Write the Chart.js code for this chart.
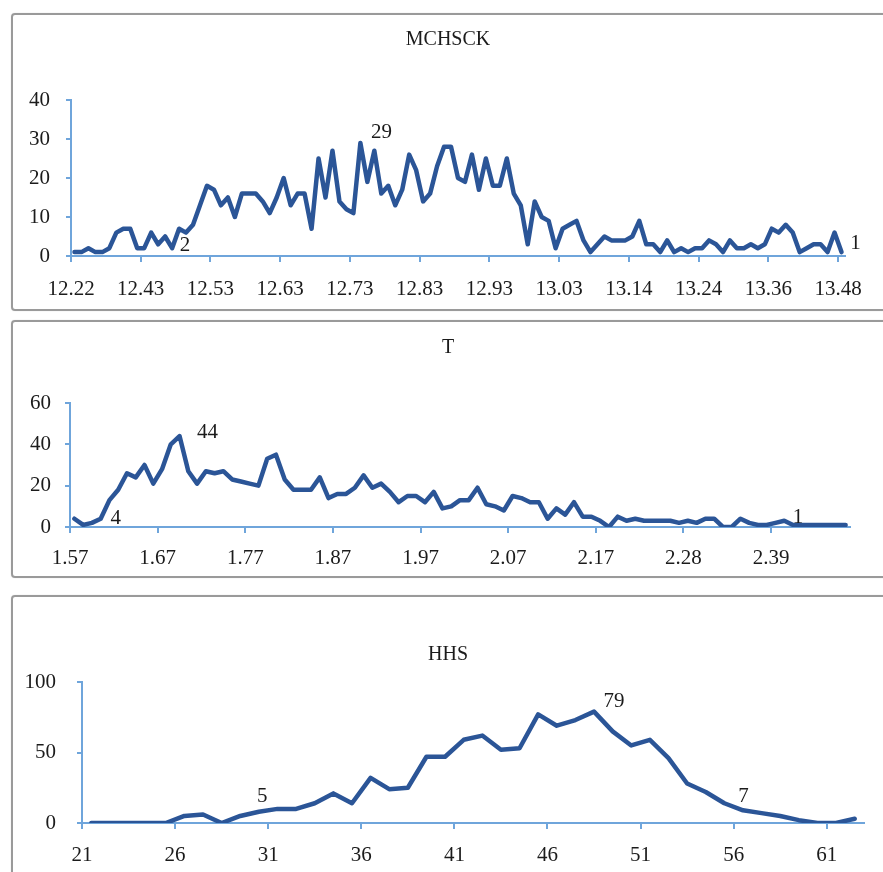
<!DOCTYPE html>
<html>
<head>
<meta charset="utf-8">
<script src="https://cdn.jsdelivr.net/npm/chart.js@4.4.0/dist/chart.umd.min.js"></script>
<style>
  html, body { margin: 0; padding: 0; background: #fff; width: 883px; height: 872px; overflow: hidden; position: relative; }
  .frame { position: absolute; left: 11px; width: 920px; border: 2px solid #9a9a9a; border-radius: 4px; box-sizing: border-box; box-shadow: 0 0 1px #c4c4c4; }
  canvas { position: absolute; left: 0; }
</style>
</head>
<body>
<div class="frame" style="top:13px;height:298px"></div>
<div class="frame" style="top:320px;height:258px"></div>
<div class="frame" style="top:595px;height:320px"></div>
<canvas id="c1" width="883" height="316" style="top:0"></canvas>
<canvas id="c2" width="883" height="276" style="top:316px"></canvas>
<canvas id="c3" width="883" height="280" style="top:592px"></canvas>
<script>
// Axis labels shown every few bins
const mchsckTicks = ['12.22','12.43','12.53','12.63','12.73','12.83','12.93','13.03','13.14','13.24','13.36','13.48'];
const tTicks = ['1.57','1.67','1.77','1.87','1.97','2.07','2.17','2.28','2.39'];
const hhsTicks = ['21','26','31','36','41','46','51','56','61'];

// Frequency per bin
const mchsckCounts = [
  1,1,2,1,1,2,6,7,7,2,2,
  6,3,5,2,7,6,8,13,18,17,
  13,15,10,16,16,16,14,11,15,20,
  13,16,16,7,25,15,27,14,12,11,
  29,19,27,16,18,13,17,26,22,14,
  16,23,28,28,20,19,26,17,25,18,
  18,25,16,13,3,14,10,9,2,7,
  8,9,4,1,3,5,4,4,4,5,
  9,3,3,1,4,1,2,1,2,2,
  4,3,1,4,2,2,3,2,3,7,
  6,8,6,1,2,3,3,1,6,1
];
const tCounts = [
  4,1,2,4,13,18,26,24,30,21,
  28,40,44,27,21,27,26,27,23,22,
  21,20,33,35,23,18,18,18,24,14,
  16,16,19,25,19,21,17,12,15,15,
  12,17,9,10,13,13,19,11,10,8,
  15,14,12,12,4,9,6,12,5,5,
  3,0,5,3,4,3,3,3,3,2,
  3,2,4,4,0,0,4,2,1,1,
  2,3,1,1,1,1,1,1,1
];
const hhsCounts = [
  0,0,0,0,0,5,6,0,5,8,
  10,10,14,21,14,32,24,25,47,47,
  59,62,52,53,77,69,73,79,65,55,
  59,46,28,22,14,9,7,5,2,0,
  0,3
];

const LINE = '#2b5597';
const AXIS = '#6fa5db';
const TEXT = '#1b1b1b';
const SERIF = '"Liberation Serif", "Times New Roman", serif';
const X_AXIS_H = 45;

// Title and value callouts drawn on top of the line
const panelText = {
  id: 'panelText',
  afterDatasetsDraw(chart, args, opts) {
    const ctx = chart.ctx;
    ctx.save();
    ctx.fillStyle = TEXT;
    ctx.textAlign = 'center';
    ctx.textBaseline = 'middle';
    ctx.font = '20px ' + SERIF;
    ctx.fillText(opts.title, opts.titleX, opts.titleY);
    ctx.font = '21px ' + SERIF;
    const pts = chart.getDatasetMeta(0).data;
    const data = chart.data.datasets[0].data;
    opts.notes.forEach(n => {
      const p = pts[n.index];
      ctx.fillText(String(data[n.index].y), p.x + n.dx, p.y + n.dy);
    });
    ctx.restore();
  }
};

function makePanel(id, p) {
  const canvas = document.getElementById(id);
  const W = canvas.width, H = canvas.height;
  const tickFont = { family: SERIF, size: 21 };
  return new Chart(canvas, {
    type: 'line',
    data: {
      datasets: [{
        data: p.counts.map((v, i) => ({ x: i, y: v })),
        borderColor: LINE,
        borderWidth: 4.5,
        pointRadius: 0,
        tension: 0,
        borderJoinStyle: 'round',
        borderCapStyle: 'round',
        fill: false
      }]
    },
    options: {
      responsive: false,
      animation: false,
      events: [],
      layout: {
        padding: { left: 0, top: p.top, right: W - p.right, bottom: H - p.bottom - X_AXIS_H }
      },
      plugins: {
        legend: { display: false },
        tooltip: { enabled: false },
        panelText: { title: p.title, titleX: 448, titleY: p.titleY, notes: p.notes }
      },
      scales: {
        x: {
          type: 'linear',
          min: -0.5,
          max: p.counts.length - 0.5,
          afterBuildTicks: s => { s.ticks = p.ticks.map((_, k) => ({ value: -0.5 + k * p.every })); },
          afterFit: s => { s.height = X_AXIS_H; },
          ticks: {
            autoSkip: false, maxRotation: 0, padding: p.xPad,
            color: TEXT, font: tickFont,
            callback: (v, idx) => p.ticks[idx]
          },
          grid: { drawOnChartArea: false, drawTicks: true, tickLength: 6, color: AXIS, lineWidth: 2 },
          border: { display: true, color: AXIS, width: 2 }
        },
        y: {
          min: 0,
          max: p.yMax,
          afterFit: s => { s.width = p.left; },
          ticks: { stepSize: p.yStep, padding: p.yPad, color: TEXT, font: tickFont },
          grid: { drawOnChartArea: false, drawTicks: true, tickLength: 5, color: AXIS, lineWidth: 2 },
          border: { display: true, color: AXIS, width: 2 }
        }
      }
    },
    plugins: [panelText]
  });
}

makePanel('c1', {
  title: 'MCHSCK', titleY: 40,
  counts: mchsckCounts, ticks: mchsckTicks, every: 10,
  yMax: 40, yStep: 10,
  left: 71, right: 845, top: 100, bottom: 256,
  yPad: 16, xPad: 15,
  notes: [ { index: 41, dx: 21, dy: -10 }, { index: 14, dx: 13, dy: -3 }, { index: 110, dx: 14, dy: -9 } ]
});

makePanel('c2', {
  title: 'T', titleY: 32,
  counts: tCounts, ticks: tTicks, every: 10,
  yMax: 60, yStep: 20,
  left: 70, right: 850, top: 87, bottom: 211,
  yPad: 14, xPad: 13,
  notes: [ { index: 12, dx: 28, dy: -4 }, { index: 3, dx: 15, dy: 0 }, { index: 82, dx: 5, dy: -7 } ]
});

makePanel('c3', {
  title: 'HHS', titleY: 63,
  counts: hhsCounts, ticks: hhsTicks, every: 5,
  yMax: 100, yStep: 50,
  left: 82, right: 864, top: 90, bottom: 231,
  yPad: 21, xPad: 14,
  notes: [ { index: 27, dx: 20, dy: -10 }, { index: 8, dx: 22, dy: -19 }, { index: 36, dx: -18, dy: -17 } ]
});
</script>
</body>
</html>
